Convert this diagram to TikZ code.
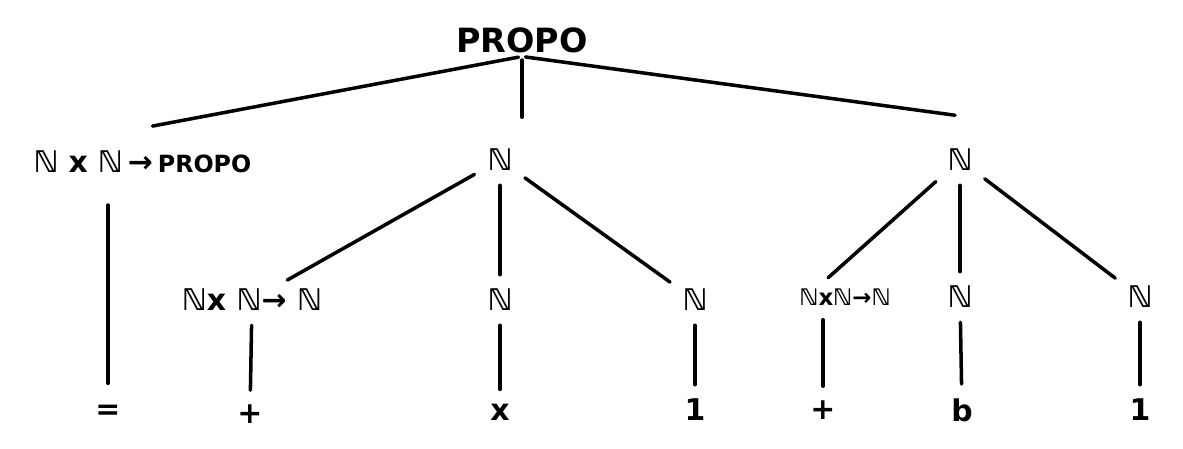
\documentclass[tikz,border=0pt]{standalone}
\usepackage{fontspec}
\setmainfont{DejaVu Sans}
\usetikzlibrary{positioning,calc}

\begin{document}
\begin{tikzpicture}[
    label/.style={font=\bfseries\fontsize{17}{20}\selectfont, inner sep=2pt},
    small/.style={font=\bfseries\fontsize{13}{16}\selectfont, inner sep=2pt},
    line/.style={draw, line width=2pt, line cap=round, shorten <=6pt, shorten >=6pt}
]
\useasboundingbox (0,0) rectangle (23.66,-8.98);

% Root
\node [label, font=\bfseries\fontsize{19}{22}\selectfont] (propo) at (10.44,-0.8) {PROPO};

% First level
\node [label] (predicate) at (2.85,-3.24) {ℕ\,\,x\,\,ℕ\,→\,{\fontsize{13.5}{15}\selectfont PROPO}};
\node [label] (nmid) at (10.0,-3.2) {ℕ};
\node [label] (nright) at (19.2,-3.2) {ℕ};

% Second level, left
\node [label] (plusfn) at (5.04,-6.0) {ℕx ℕ→ ℕ};
\node [label] (nx) at (10.0,-6.0) {ℕ};
\node [label] (none) at (13.9,-6.0) {ℕ};

% Second level, right
\node [small] (plusfnb) at (16.9,-5.94) {ℕxℕ→ℕ};
\node [label] (nb) at (19.2,-5.94) {ℕ};
\node [label] (noneb) at (22.8,-5.94) {ℕ};

% Leaves
\node [label] (eq) at (2.16,-8.24) {=};
\node [label] (plus) at (5.0,-8.28) {+};
\node [label] (x) at (10.0,-8.24) {x};
\node [label] (one) at (13.9,-8.2) {1};
\node [label] (plusb) at (16.46,-8.2) {+};
\node [label] (b) at (19.24,-8.2) {b};
\node [label] (oneb) at (22.8,-8.2) {1};

% Connections
\path [line, shorten <=2pt, shorten >=0pt] (propo.south) -- ($(predicate.north)+(0.2,0.42)$);
\path [line, shorten <=2pt, shorten >=0pt] (propo.south) -- ($(propo.south |- nmid.north)+(0,0.56)$);
\path [line, shorten <=2pt, shorten >=0pt] (propo.south) -- ($(nright.north)+(-0.1,0.6)$);
\path [line, shorten <=16pt, shorten >=10pt] (predicate.south -| eq) -- (eq);
\path [line] (nmid) -- (plusfn);
\path [line] (nmid) -- (nx);
\path [line] (nmid) -- (none);
\path [line] (nright) -- ($(plusfnb.north west)!0.5!(plusfnb.north)$);
\path [line] (nright) -- (nb);
\path [line] (nright) -- (noneb);
\path [line] (plusfn) -- (plus);
\path [line] (nx) -- (x);
\path [line] (none) -- (one);
\path [line] (plusfnb.south -| plusb) -- (plusb);
\path [line] (nb) -- (b);
\path [line] (noneb) -- (oneb);

\end{tikzpicture}
\end{document}
